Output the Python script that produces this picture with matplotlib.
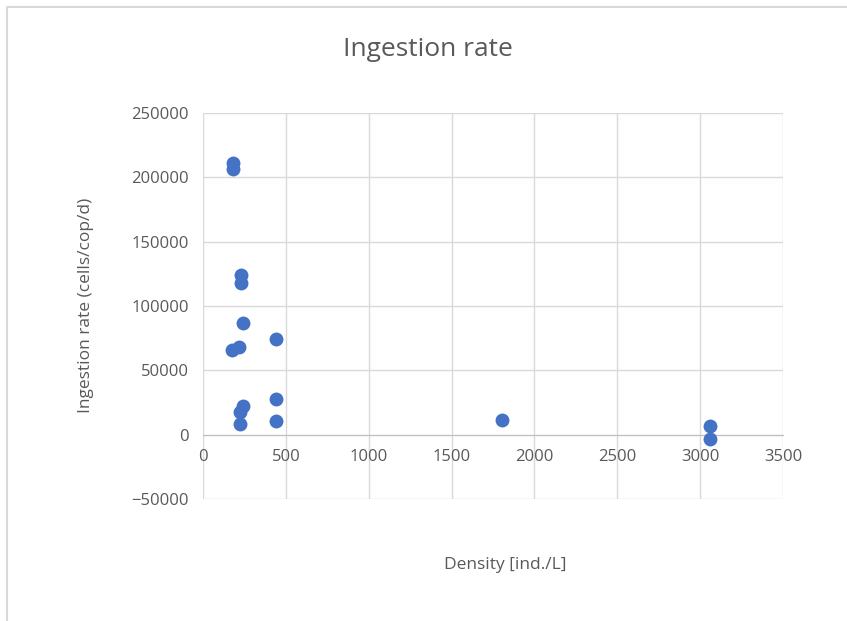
import matplotlib.pyplot as plt
from matplotlib.lines import Line2D

# values
density = [183, 183, 229, 229, 243, 439, 173, 219, 439, 439, 243, 223, 223, 1803, 3060, 3060]
ingestion = [211000, 206500, 124000, 117500, 87000, 74500, 66000, 68500,
             27800, 10500, 22000, 18000, 8500, 11500, 7000, -3300]

x_ticks = [0, 500, 1000, 1500, 2000, 2500, 3000, 3500]
y_ticks = [-50000, 0, 50000, 100000, 150000, 200000, 250000]

plt.rcParams['font.family'] = ['Open Sans', 'DejaVu Sans']
text_col = '#595959'
grid_col = '#d9d9d9'

fig = plt.figure(figsize=(8.47, 6.21), dpi=100)
ax = fig.add_axes([203 / 847, 1 - 499 / 621, 580 / 847, 386 / 621])

ax.scatter(density, ingestion, s=100, color='#4472c4', zorder=3, linewidths=0)

ax.set_xlim(0, 3500)
ax.set_ylim(-50000, 250000)
ax.set_xticks(x_ticks)
ax.set_yticks(y_ticks)
ax.grid(True, color=grid_col, linewidth=1)
ax.set_axisbelow(True)

for s in ['top', 'right', 'left']:
    ax.spines[s].set_visible(False)
ax.spines['bottom'].set_position(('data', 0))
ax.spines['bottom'].set_color('#bfbfbf')
ax.tick_params(axis='x', length=0, pad=10, labelcolor=text_col, labelsize=12)
ax.tick_params(axis='y', length=0, labelcolor=text_col, labelsize=12, pad=10)

fig.text(0.5 + 0.005, 1 - 50 / 621, 'Ingestion rate', ha='center', va='center', fontsize=19, color=text_col)
fig.text(505 / 847, 1 - 565 / 621, 'Density [ind./L]', ha='center', va='center', fontsize=12.5, color=text_col)
fig.text(86 / 847, 1 - 305 / 621, 'Ingestion rate (cells/cop/d)', ha='center', va='center',
         rotation=90, fontsize=12.5, color=text_col)

# chart border (only top and left edges are visible in the reference)
fig.lines.append(Line2D([7 / 847, 7 / 847, 1], [0, 1 - 7 / 621, 1 - 7 / 621],
                        transform=fig.transFigure, color='#d9d9d9', linewidth=1.5))

plt.savefig('out.png', dpi=100, facecolor='white')
